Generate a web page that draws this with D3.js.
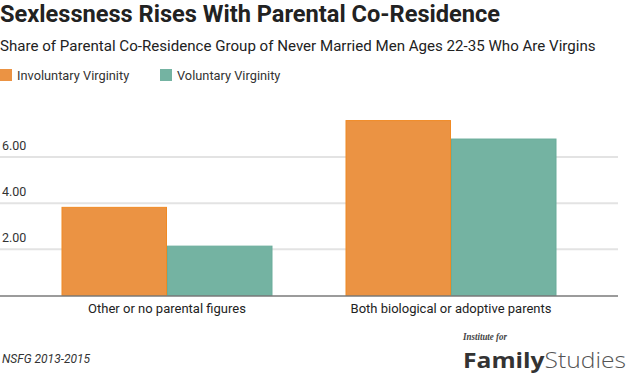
<!DOCTYPE html>
<html>
<head>
<meta charset="utf-8">
<script src="https://cdn.jsdelivr.net/npm/d3@7"></script>
<style>
  body { margin: 0; background: #fff; }
  svg { display: block; font-family: Roboto, sans-serif; }
</style>
</head>
<body>
<div class="chart"></div>
<script>
const categories = ["Other or no parental figures", "Both biological or adoptive parents"];
const seriesNames = ["Involuntary Virginity", "Voluntary Virginity"];
const involuntary = [3.84, 7.6];
const voluntary = [2.16, 6.8];
const yTicks = [2, 4, 6];
const colors = ["#EB9343", "#74B3A2"];
const strokes = ["#F08A24", "#6AAD9B"];

const width = 640, height = 376;
const plot = { left: 0, right: 618, top: 110, bottom: 295.5 };

const svg = d3.select(".chart")
  .append("svg")
  .attr("width", width)
  .attr("height", height);

// title block
svg.append("text")
  .attr("x", 0).attr("y", 22)
  .attr("font-size", 23.6).attr("font-weight", 700).attr("fill", "#222")
  .text("Sexlessness Rises With Parental Co-Residence");

svg.append("text")
  .attr("x", 0).attr("y", 51)
  .attr("font-size", 15.1).attr("fill", "#222")
  .text("Share of Parental Co-Residence Group of Never Married Men Ages 22-35 Who Are Virgins");

// legend
const legendX = [0, 160];
const legend = svg.append("g").selectAll("g")
  .data(seriesNames)
  .enter().append("g")
  .attr("transform", (d, i) => `translate(${legendX[i]}, 69)`);
legend.append("rect")
  .attr("width", 12).attr("height", 12)
  .attr("fill", (d, i) => colors[i]);
legend.append("text")
  .attr("x", 17).attr("y", 10.5)
  .attr("font-size", 12.8).attr("fill", "#333")
  .text(d => d);

// scales
const x0 = d3.scaleBand()
  .domain(categories)
  .range([plot.left, plot.right])
  .paddingInner(0)
  .paddingOuter(0.088);

const x1 = d3.scaleBand()
  .domain(seriesNames)
  .range([0, x0.bandwidth()])
  .paddingInner(0)
  .paddingOuter(0.346);

// 6.00 gridline sits at y=157
const y = d3.scaleLinear()
  .domain([0, 6])
  .range([plot.bottom, 157]);

// gridlines + labels
const grid = svg.append("g");
grid.selectAll("line")
  .data(yTicks)
  .enter().append("line")
  .attr("x1", plot.left).attr("x2", plot.right)
  .attr("y1", d => y(d)).attr("y2", d => y(d))
  .attr("stroke", "#e3e3e3").attr("stroke-width", 2);
grid.selectAll("text")
  .data(yTicks)
  .enter().append("text")
  .attr("x", 2).attr("y", d => y(d) - 7)
  .attr("font-size", 12.5).attr("fill", "#333")
  .text(d => d3.format(".2f")(d));

// bars
const rows = categories.map((c, i) => ({ cat: c, vals: [involuntary[i], voluntary[i]] }));
const groups = svg.append("g").selectAll("g")
  .data(rows)
  .enter().append("g")
  .attr("transform", d => `translate(${x0(d.cat)}, 0)`);

groups.selectAll("rect")
  .data(d => d.vals.map((v, i) => ({ name: seriesNames[i], v, i })))
  .enter().append("rect")
  .attr("x", d => x1(d.name) + 0.5)
  .attr("width", x1.bandwidth() - 1)
  .attr("y", d => y(d.v) + 0.5)
  .attr("height", d => y(0) - y(d.v) - 0.5)
  .attr("fill", d => colors[d.i])
  .attr("stroke", d => strokes[d.i])
  .attr("stroke-width", 1);

// baseline
svg.append("line")
  .attr("x1", plot.left).attr("x2", plot.right)
  .attr("y1", y(0) + 0.5).attr("y2", y(0) + 0.5)
  .attr("stroke", "#7a7a7a").attr("stroke-width", 1.3);

// category labels
const xAxis = svg.append("g")
  .attr("transform", `translate(0, ${plot.bottom})`)
  .call(d3.axisBottom(x0).tickSize(0).tickPadding(0));
xAxis.select(".domain").remove();
xAxis.selectAll("text")
  .attr("dy", null)
  .attr("y", 17.5)
  .attr("font-family", "Roboto, sans-serif")
  .attr("font-size", 13)
  .attr("fill", "#222");

// footer
svg.append("text")
  .attr("x", 2).attr("y", 363)
  .attr("font-size", 12).attr("font-style", "italic").attr("fill", "#333")
  .text("NSFG 2013-2015");

const logo = svg.append("g").attr("transform", "translate(463, 0)");
logo.append("text")
  .attr("x", 0).attr("y", 340)
  .attr("font-family", "'Liberation Serif', serif")
  .attr("font-style", "italic").attr("font-weight", 700)
  .attr("font-size", 9.5).attr("fill", "#444")
  .attr("textLength", 44).attr("lengthAdjust", "spacingAndGlyphs")
  .text("Institute for");
const logoText = logo.append("text")
  .attr("x", 0).attr("y", 368)
  .attr("font-family", "'Open Sans', sans-serif")
  .attr("font-size", 22).attr("fill", "#333")
  .attr("textLength", 163).attr("lengthAdjust", "spacingAndGlyphs");
logoText.append("tspan").attr("font-weight", 700).text("Family");
logoText.append("tspan").attr("font-weight", 300).attr("fill", "#555").text("Studies");
</script>
</body>
</html>
